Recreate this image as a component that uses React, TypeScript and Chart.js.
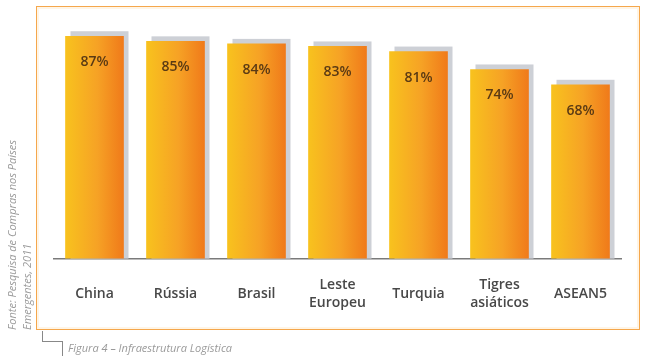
import React, { useEffect, useRef } from "react";
import { Chart, registerables } from "chart.js";

Chart.register(...registerables);

const categories: (string | string[])[] = ["China", "Rússia", "Brasil", ["Leste", "Europeu"], "Turquia", ["Tigres", "asiáticos"], "ASEAN5"];
const values: number[] = [87, 85, 84, 83, 81, 74, 68];
const sourceLines: string[] = ["Fonte: Pesquisa de Compras nos Países", "Emergentes, 2011"];
const caption = "Figura 4 – Infraestrutura Logística";

const BAR_W = 58;

const barDecor = {
  id: "barDecor",
  beforeDatasetsDraw(chart: any) {
    const ctx = chart.ctx;
    const meta = chart.getDatasetMeta(0);
    ctx.save();
    ctx.fillStyle = "#cdd0d6";
    meta.data.forEach((el: any) => {
      const l = el.x - BAR_W / 2 + 5;
      ctx.fillRect(l, el.y - 5, BAR_W, el.base - el.y + 5);
    });
    ctx.restore();
  },
  afterDatasetsDraw(chart: any) {
    const ctx = chart.ctx;
    const meta = chart.getDatasetMeta(0);
    ctx.save();
    ctx.fillStyle = "#5a3a14";
    ctx.font = "600 14px 'Open Sans', sans-serif";
    ctx.textAlign = "center";
    ctx.textBaseline = "middle";
    meta.data.forEach((el: any, i: number) => {
      ctx.fillText(values[i] + "%", el.x, el.y + 26);
    });
    ctx.restore();
  },
};

export default function App() {
  const ref = useRef<HTMLCanvasElement | null>(null);
  useEffect(() => {
    if (!ref.current) return;
    const chart = new Chart(ref.current, {
      type: "bar",
      data: {
        labels: categories,
        datasets: [
          {
            data: values,
            barThickness: BAR_W,
            borderWidth: 0,
            backgroundColor: (c: any) => {
              const ch = c.chart;
              const xs = ch.scales && ch.scales.x;
              if (!xs || typeof c.dataIndex !== "number") return "#f6a225";
              const cx = xs.getPixelForValue(c.dataIndex);
              if (!isFinite(cx)) return "#f6a225";
              const g = ch.ctx.createLinearGradient(cx - BAR_W / 2, 0, cx + BAR_W / 2, 0);
              g.addColorStop(0, "#f8c21e");
              g.addColorStop(0.55, "#f6a225");
              g.addColorStop(1, "#f07a1a");
              return g;
            },
          },
        ],
      },
      options: {
        animation: false,
        responsive: false,
        maintainAspectRatio: false,
        layout: { padding: { left: 54, right: 29, top: 3, bottom: 13 } },
        plugins: { legend: { display: false }, tooltip: { enabled: false } },
        scales: {
          y: { display: false, min: 0, max: 100 },
          x: {
            grid: { display: false, drawTicks: false },
            border: { display: true, color: "#7a7a7a", width: 1.5 },
            ticks: {
              color: "#484848",
              padding: 26,
              crossAlign: "center",
              maxRotation: 0,
              autoSkip: false,
              font: { family: "'Open Sans', sans-serif", size: 14, weight: "600", lineHeight: 1.3 },
            },
          },
        },
      },
      plugins: [barDecor],
    } as any);
    return () => chart.destroy();
  }, []);

  return (
    <div style={{ position: "fixed", left: 0, top: 0, width: 650, height: 360, background: "#fff", overflow: "hidden", fontFamily: "'Open Sans', sans-serif" }}>
      <div style={{ position: "absolute", left: 36, top: 6, width: 602, height: 322, border: "1.5px solid #f5a74c", boxShadow: "inset 0 0 0 2px #fff5e6" }} />
      <canvas ref={ref} width={650} height={360} style={{ position: "absolute", left: 0, top: 0, width: 650, height: 360 }} />
      <div style={{ position: "absolute", left: 4, top: 330, transformOrigin: "0 0", transform: "rotate(-90deg)", whiteSpace: "nowrap", fontStyle: "italic", fontSize: 11, lineHeight: "15px", color: "#9a9a9a" }}>
        {sourceLines.map((s, i) => (
          <div key={i}>{s}</div>
        ))}
      </div>
      <div style={{ position: "absolute", left: 42, top: 331, width: 20, height: 10, borderLeft: "1px solid #888", borderBottom: "1px solid #888" }} />
      <div style={{ position: "absolute", left: 62, top: 341, width: 0, height: 15, borderLeft: "1px solid #888" }} />
      <div style={{ position: "absolute", left: 68, top: 340, fontStyle: "italic", fontSize: 11, color: "#9a9a9a", whiteSpace: "nowrap" }}>{caption}</div>
    </div>
  );
}
